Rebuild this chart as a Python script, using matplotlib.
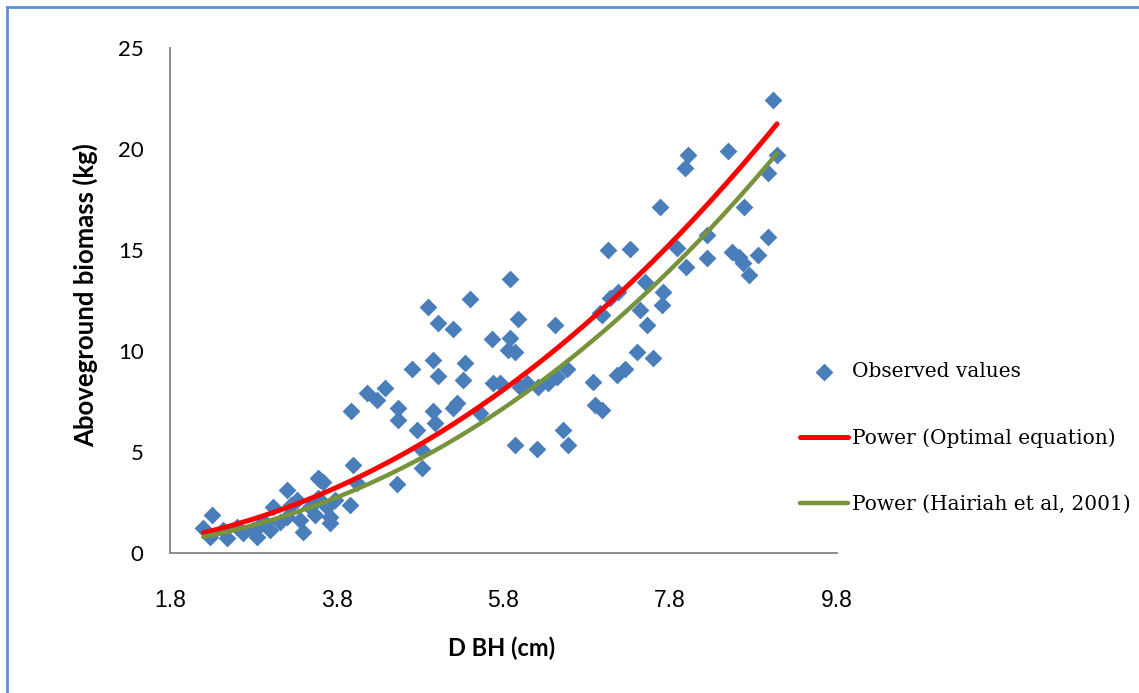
import numpy as np
import matplotlib.pyplot as plt
from matplotlib.lines import Line2D

# observed DBH (cm) / aboveground biomass (kg)
dbh = [2.30, 2.20, 2.28, 2.44, 2.48, 2.60, 2.68, 2.80, 2.84, 2.94, 3.00, 3.03, 3.20, 3.20,
       3.32, 3.36, 3.39, 3.48, 3.57, 3.63, 3.68, 3.72, 3.96, 4.00, 4.04, 2.88, 3.12, 3.54,
       3.78, 3.57, 3.25, 3.60, 3.72,
       4.89, 5.40, 5.01, 5.19, 5.97, 5.88, 5.66, 5.88, 5.85, 5.94, 4.70, 4.95, 5.01, 5.34,
       5.31, 5.67, 4.38, 4.16, 4.28, 3.97, 4.54, 4.54, 4.95, 5.24, 5.19, 4.98, 4.76, 5.52,
       5.94, 4.82, 4.82, 4.52, 6.42, 5.76, 6.00, 6.08, 6.21, 6.33, 6.44, 6.56, 6.87, 6.90,
       6.98, 7.16, 7.26, 6.51, 6.57, 6.20, 7.40, 7.59,
       7.05, 7.32, 7.50, 7.71, 7.70, 7.08, 7.17, 6.96, 7.44, 7.52, 6.98, 9.03, 8.01, 7.98,
       8.49, 9.08, 8.97, 7.68, 8.69, 8.24, 8.97, 7.88, 8.54, 8.85, 8.63, 8.67, 8.75, 7.99,
       8.24]
biomass = [1.88, 1.24, 0.79, 1.14, 0.74, 1.29, 0.99, 1.14, 0.79, 1.49, 1.14, 2.28, 3.12, 1.78,
           2.62, 1.63, 1.04, 2.28, 3.71, 3.51, 2.28, 1.49, 2.38, 4.36, 3.47, 1.39, 1.53, 1.88,
           2.62, 2.72, 2.38, 3.61, 1.78,
           12.18, 12.57, 11.39, 11.09, 11.58, 13.56, 10.59, 10.64, 10.05, 9.95, 9.11, 9.55, 8.76, 9.41,
           8.56, 8.42, 8.17, 7.92, 7.57, 7.03, 7.16, 6.58, 7.03, 7.43, 7.18, 6.44, 6.09, 6.93,
           5.35, 5.10, 4.21, 3.42, 11.29, 8.42, 8.22, 8.42, 8.22, 8.42, 8.71, 9.11, 8.47, 7.33,
           7.08, 8.81, 9.11, 6.09, 5.35, 5.15, 9.95, 9.65,
           15.00, 15.05, 13.42, 12.92, 12.28, 12.62, 12.92, 11.88, 12.03, 11.29, 11.78, 22.43, 19.70, 19.06,
           19.90, 19.70, 18.81, 17.13, 17.13, 15.74, 15.64, 15.10, 14.90, 14.75, 14.65, 14.36, 13.76, 14.16,
           14.60]

# power trendlines y = a * x^b
opt_a, opt_b = 0.183, 2.155
hai_a, hai_b = 0.134, 2.264

xticks = [1.8, 3.8, 5.8, 7.8, 9.8]
yticks = [0, 5, 10, 15, 20, 25]

W, H = 1139, 693
fig = plt.figure(figsize=(W / 100, H / 100), dpi=100)
ax = fig.add_axes([170 / W, 1 - 553 / H, (837 - 170) / W, (553 - 48) / H])

ax.scatter(dbh, biomass, marker='D', s=82, color='#4A7EBB', linewidths=0,
           zorder=2, label='Observed values')

xs = np.linspace(min(dbh), max(dbh), 200)
ax.plot(xs, opt_a * xs ** opt_b, color='#FF0000', lw=3.6, solid_capstyle='round',
        zorder=3, label='Power (Optimal equation)')
ax.plot(xs, hai_a * xs ** hai_b, color='#77933C', lw=3.2, solid_capstyle='round',
        zorder=3, label='Power (Hairiah et al, 2001)')

ax.set_xlim(1.8, 9.8)
ax.set_ylim(0, 25)
ax.set_xticks(xticks)
ax.set_xticklabels([f'{t:.1f}' for t in xticks], family='Liberation Sans', fontsize=16.5)
ax.set_yticks(yticks)
ax.set_yticklabels([str(t) for t in yticks], family='Lato', fontsize=16)
ax.tick_params(length=0)
ax.tick_params(axis='x', pad=26)
ax.tick_params(axis='y', pad=19)

for s in ['top', 'right']:
    ax.spines[s].set_visible(False)
for s in ['left', 'bottom']:
    ax.spines[s].set_color('#8C8C8C')
    ax.spines[s].set_linewidth(1.4)

fig.text(502 / W, 1 - 648 / H, 'D BH (cm)', ha='center', va='center',
         family='Lato', fontweight='bold', fontsize=17)
fig.text(85 / W, 1 - 295 / H, 'Aboveground biomass (kg)', ha='center', va='center',
         rotation=90, family='Lato', fontweight='bold', fontsize=18.5)

leg = ax.legend(loc='center left', bbox_to_anchor=(800 / W, 1 - 438 / H),
                bbox_transform=fig.transFigure, frameon=False, borderpad=0,
                borderaxespad=0, handlelength=2.4, handletextpad=0.2,
                labelspacing=2.35, prop={'family': 'DejaVu Serif', 'size': 14.5})

# outer blue frame (only top and left edges visible)
fig.add_artist(Line2D([7 / W, 7 / W], [0, 1 - 7 / H], transform=fig.transFigure,
                      color='#5B8FD0', lw=2))
fig.add_artist(Line2D([7 / W, 1], [1 - 7 / H, 1 - 7 / H], transform=fig.transFigure,
                      color='#5B8FD0', lw=2))

fig.savefig('out.png', dpi=100)
